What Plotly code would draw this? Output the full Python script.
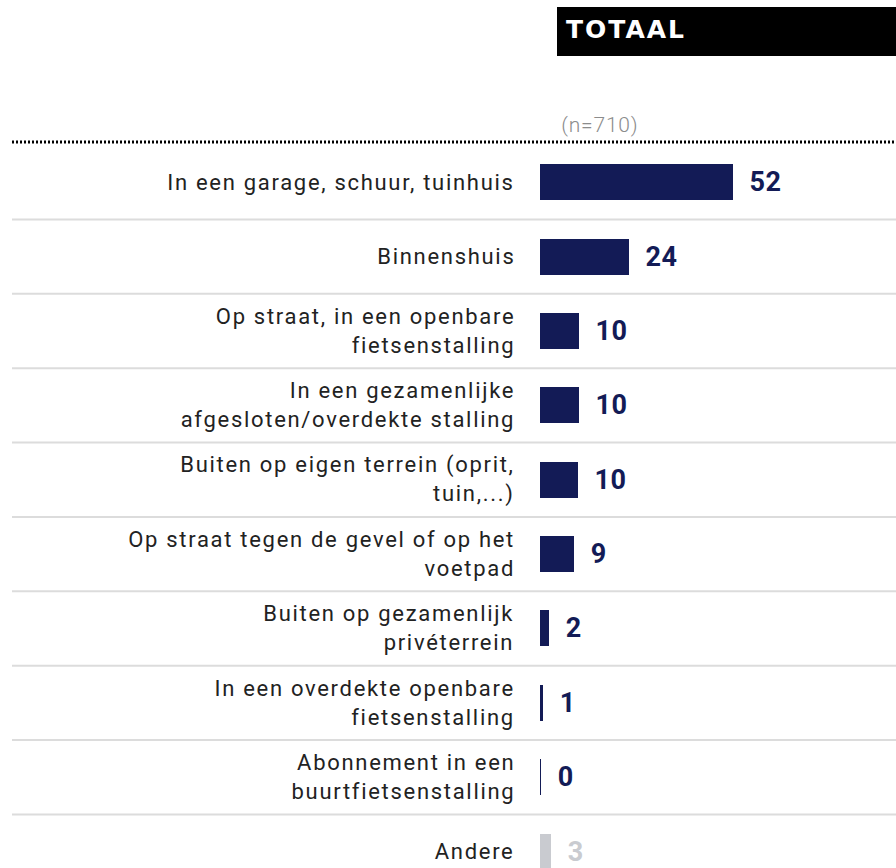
import json
import plotly.graph_objects as go

categories = [
    "In een garage, schuur, tuinhuis",
    "Binnenshuis",
    "Op straat, in een openbare<br>fietsenstalling",
    "In een gezamenlijke<br>afgesloten/overdekte stalling",
    "Buiten op eigen terrein (oprit,<br>tuin,...)",
    "Op straat tegen de gevel of op het<br>voetpad",
    "Buiten op gezamenlijk<br>privéterrein",
    "In een overdekte openbare<br>fietsenstalling",
    "Abonnement in een<br>buurtfietsenstalling",
    "Andere",
]
values = [52, 24, 10.5, 10.4, 10.2, 9.2, 2.4, 0.8, 0.3, 3]
value_labels = ["52", "24", "10", "10", "10", "9", "2", "1", "0", "3"]
title_text = "TOTAAL"
n_label = "(n=710)"

NAVY = "#131b56"
GREY = "#c9cbd0"
colors = [NAVY] * 9 + [GREY]
label_colors = [NAVY] * 9 + [GREY]

W, H = 896, 868
L, T = 540, 145
plot_w, plot_h = W - L, H - T
px_per_unit = 3.71
row_px = 74.38

ys = list(range(len(categories)))

fig = go.Figure()
fig.add_trace(go.Bar(
    x=values, y=ys, orientation="h",
    marker=dict(color=colors, line=dict(width=0)),
    width=36 / row_px, hoverinfo="skip",
))

def py(p):
    return (H - p) / plot_h

def pxp(p):
    return (p - L) / plot_w

annotations = []
spacing = []
for i, (c, v, lab, col) in enumerate(zip(categories, values, value_labels, label_colors)):
    annotations.append(dict(
        x=0, xref="paper", y=i, yref="y", text=c, showarrow=False,
        xanchor="right", yanchor="middle", align="right", xshift=-23,
        font=dict(family="Roboto", size=22, color="#222222"),
    ))
    spacing.append(1.7)
    annotations.append(dict(
        x=v, xref="x", y=i, yref="y", text="<b>%s</b>" % lab, showarrow=False,
        xanchor="left", yanchor="middle", xshift=15,
        font=dict(family="Roboto", size=27, color=col),
    ))
    spacing.append(0.6)

annotations.append(dict(
    x=pxp(562), xref="paper", y=py(125), yref="paper", text=n_label,
    showarrow=False, xanchor="left", yanchor="middle",
    font=dict(family="Roboto", size=21, color="#8c8c8c", weight=300),
))
spacing.append(0.8)
annotations.append(dict(
    x=pxp(570), xref="paper", y=py(30), yref="paper", text="<b>%s</b>" % title_text,
    showarrow=False, xanchor="left", yanchor="middle",
    font=dict(family="DejaVu Sans", size=25, color="white"),
))
spacing.append(2.0)

shapes = []
shapes.append(dict(
    type="rect", xref="paper", yref="paper",
    x0=pxp(557), x1=1, y0=py(56), y1=py(7),
    fillcolor="black", line=dict(width=0), layer="below",
))
shapes.append(dict(
    type="line", xref="paper", yref="paper",
    x0=pxp(12), x1=1, y0=py(142), y1=py(142),
    line=dict(color="black", width=3, dash="2px,2px"),
))
for i in range(len(categories) - 1):
    shapes.append(dict(
        type="line", xref="paper", yref="y",
        x0=pxp(12), x1=1, y0=i + 0.5, y1=i + 0.5,
        line=dict(color="#dcdcdc", width=2), layer="below",
    ))

n_rows_visible = plot_h / row_px
fig.update_layout(
    width=W, height=H,
    margin=dict(l=L, r=0, t=T, b=0, pad=0),
    paper_bgcolor="white", plot_bgcolor="white",
    showlegend=False,
    xaxis=dict(range=[0, plot_w / px_per_unit], visible=False, fixedrange=True),
    yaxis=dict(range=[-0.5 + n_rows_visible, -0.5], visible=False, fixedrange=True),
    annotations=annotations, shapes=shapes,
    bargap=0,
)

post = """
document.body.style.margin = '0';
document.body.style.overflow = 'hidden';
var SP = %s;
var gd = document.getElementById('{plot_id}');
function applySpacing() {
  gd.querySelectorAll('g.annotation').forEach(function (g) {
    var i = +g.getAttribute('data-index');
    var t = g.querySelector('text.annotation-text');
    if (t && SP[i] !== undefined) { t.style.letterSpacing = SP[i] + 'px'; }
  });
}
applySpacing();
gd.on('plotly_afterplot', applySpacing);
""" % json.dumps(spacing)

fig.write_html("out.html", post_script=post, config={"displayModeBar": False, "staticPlot": True})
